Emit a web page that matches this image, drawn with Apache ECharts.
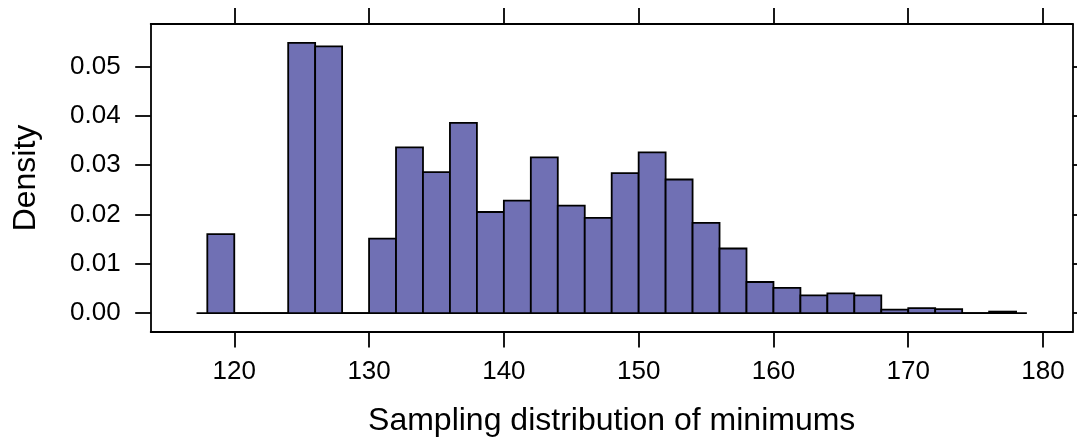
<!DOCTYPE html>
<html>
<head>
<meta charset="utf-8">
<script src="https://cdn.jsdelivr.net/npm/echarts@6/dist/echarts.min.js"></script>
<style>
  html, body { margin: 0; padding: 0; background: #fff; }
  #chart { width: 1077px; height: 442px; }
</style>
</head>
<body>
<div id="chart"></div>
<script>
// Histogram bins (left edges) and density per bin (bin width 2)
const binStarts = [118, 120, 122, 124, 126, 128, 130, 132, 134, 136, 138, 140, 142, 144, 146,
                   148, 150, 152, 154, 156, 158, 160, 162, 164, 166, 168, 170, 172, 174, 176];
const binWidth = 2;
const densities = [0.0160, 0, 0, 0.0548, 0.0541, 0, 0.0151, 0.0336, 0.0286, 0.0386, 0.0205,
                   0.0228, 0.0316, 0.0218, 0.0193, 0.0284, 0.0326, 0.0271, 0.0183, 0.0131,
                   0.0063, 0.0051, 0.0036, 0.0040, 0.0036, 0.0007, 0.0010, 0.0008, 0, 0.0003];

// Axis ticks and limits
const xTicks = [120, 130, 140, 150, 160, 170, 180];
const yTicks = [0, 0.01, 0.02, 0.03, 0.04, 0.05];
const xRange = [113.8, 182.2];
const yRange = [-0.00384, 0.05864];
const baselineRange = [117.2, 178.8];

const FONT = '"Liberation Sans", Arial, Helvetica, sans-serif';
const BAR_FILL = '#7070B4';
const LW = 1.8;

const barData = binStarts.map((x0, i) => [x0, x0 + binWidth, densities[i]]);

const chart = echarts.init(document.getElementById('chart'), null, { renderer: 'canvas' });

const tickStyle = { color: '#000', width: LW };
const lineStyle = { color: '#000', width: LW };

chart.setOption({
  backgroundColor: '#fff',
  animation: false,
  grid: { left: 150.7, top: 24, right: 4.3, bottom: 109.5, containLabel: false },
  xAxis: [
    {
      type: 'value', position: 'bottom', min: xRange[0], max: xRange[1],
      name: 'Sampling distribution of minimums', nameLocation: 'middle', nameGap: 73,
      nameTextStyle: { fontFamily: FONT, fontSize: 32, color: '#000' },
      axisLine: { show: true, onZero: false, lineStyle },
      axisTick: { show: true, inside: false, length: 15.5, lineStyle: tickStyle, customValues: xTicks },
      axisLabel: { show: true, margin: 27, fontFamily: FONT, fontSize: 26, color: '#000',
                   customValues: xTicks, formatter: v => String(v) },
      splitLine: { show: false }
    },
    {
      type: 'value', position: 'top', min: xRange[0], max: xRange[1],
      axisLine: { show: true, onZero: false, lineStyle },
      axisTick: { show: true, inside: false, length: 16, lineStyle: tickStyle, customValues: xTicks },
      axisLabel: { show: false },
      splitLine: { show: false }
    }
  ],
  yAxis: [
    {
      type: 'value', position: 'left', min: yRange[0], max: yRange[1],
      name: 'Density', nameLocation: 'middle', nameGap: 109,
      nameTextStyle: { fontFamily: FONT, fontSize: 32, color: '#000' },
      axisLine: { show: true, onZero: false, lineStyle },
      axisTick: { show: true, inside: false, length: 15.5, lineStyle: tickStyle, customValues: yTicks },
      axisLabel: { show: true, margin: 30, fontFamily: FONT, fontSize: 26, color: '#000',
                   customValues: yTicks, formatter: v => v.toFixed(2) },
      splitLine: { show: false }
    },
    {
      type: 'value', position: 'right', min: yRange[0], max: yRange[1],
      axisLine: { show: true, onZero: false, lineStyle },
      axisTick: { show: true, inside: false, length: 15.5, lineStyle: tickStyle, customValues: yTicks },
      axisLabel: { show: false },
      splitLine: { show: false }
    }
  ],
  series: [
    {
      // zero line under the histogram
      type: 'line',
      xAxisIndex: 0, yAxisIndex: 0,
      data: [[baselineRange[0], 0], [baselineRange[1], 0]],
      symbol: 'none',
      lineStyle: { color: '#000', width: LW },
      silent: true,
      z: 1
    },
    {
      type: 'custom',
      xAxisIndex: 0, yAxisIndex: 0,
      data: barData,
      encode: { x: [0, 1], y: 2 },
      renderItem: function (params, api) {
        const x0 = api.value(0), x1 = api.value(1), h = api.value(2);
        const pTop = api.coord([x0, h]);
        const pBot = api.coord([x1, 0]);
        return {
          type: 'rect',
          shape: { x: pTop[0], y: pTop[1], width: pBot[0] - pTop[0], height: pBot[1] - pTop[1] },
          style: { fill: BAR_FILL, stroke: '#000', lineWidth: LW }
        };
      },
      z: 2
    }
  ]
});
</script>
</body>
</html>
